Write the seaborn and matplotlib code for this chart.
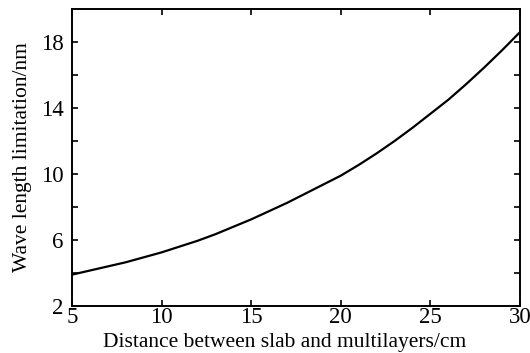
import matplotlib
matplotlib.use("Agg")
import matplotlib.pyplot as plt
import seaborn as sns
import pandas as pd
from matplotlib.ticker import FixedLocator

distance_cm = [5, 6, 7, 8, 9, 10, 11, 12, 13, 14, 15, 16, 17, 18, 19, 20,
               21, 22, 23, 24, 25, 26, 27, 28, 29, 30]
wavelength_nm = [3.9, 4.15, 4.4, 4.65, 4.95, 5.25, 5.6, 5.95, 6.35, 6.8, 7.25,
                 7.75, 8.25, 8.8, 9.35, 9.9, 10.55, 11.25, 12.0, 12.8, 13.65,
                 14.5, 15.45, 16.45, 17.5, 18.6]
x_ticks = [5, 10, 15, 20, 25, 30]
y_ticks = [2, 6, 10, 14, 18]
y_minor = [4, 8, 12, 16]

sns.set_theme(style="ticks")
plt.rcParams['font.family'] = ['Liberation Serif', 'DejaVu Serif']
plt.rcParams['text.color'] = 'black'
plt.rcParams['axes.labelcolor'] = 'black'

df = pd.DataFrame({"x": distance_cm, "y": wavelength_nm})

fig = plt.figure(figsize=(5.3, 3.53), dpi=100)
ax = fig.add_axes([72/530, 1 - 306/353, 448/530, 297/353])
sns.lineplot(data=df, x="x", y="y", ax=ax, color="black", linewidth=1.6)

ax.set_xlim(5, 30)
ax.set_ylim(2, 20)
ax.xaxis.set_major_locator(FixedLocator(x_ticks))
ax.yaxis.set_major_locator(FixedLocator(y_ticks))
ax.yaxis.set_minor_locator(FixedLocator(y_minor))
ax.tick_params(axis="both", which="both", direction="in", top=True, right=True,
               length=4, width=1.2, colors="black", labelcolor="black",
               labelsize=16.5)
ax.tick_params(axis="y", pad=6)
ax.tick_params(axis="x", pad=1)
for s in ax.spines.values():
    s.set_linewidth(1.4)
    s.set_color("black")
ax.set_xlabel("Distance between slab and multilayers/cm", fontsize=15.5,
              color="black")
ax.set_ylabel("Wave length limitation/nm", fontsize=15.5, color="black")
ax.xaxis.set_label_coords(0.475, -0.09)
ax.yaxis.set_label_coords(-0.09, 0.5)

fig.savefig("out.png", dpi=100)
